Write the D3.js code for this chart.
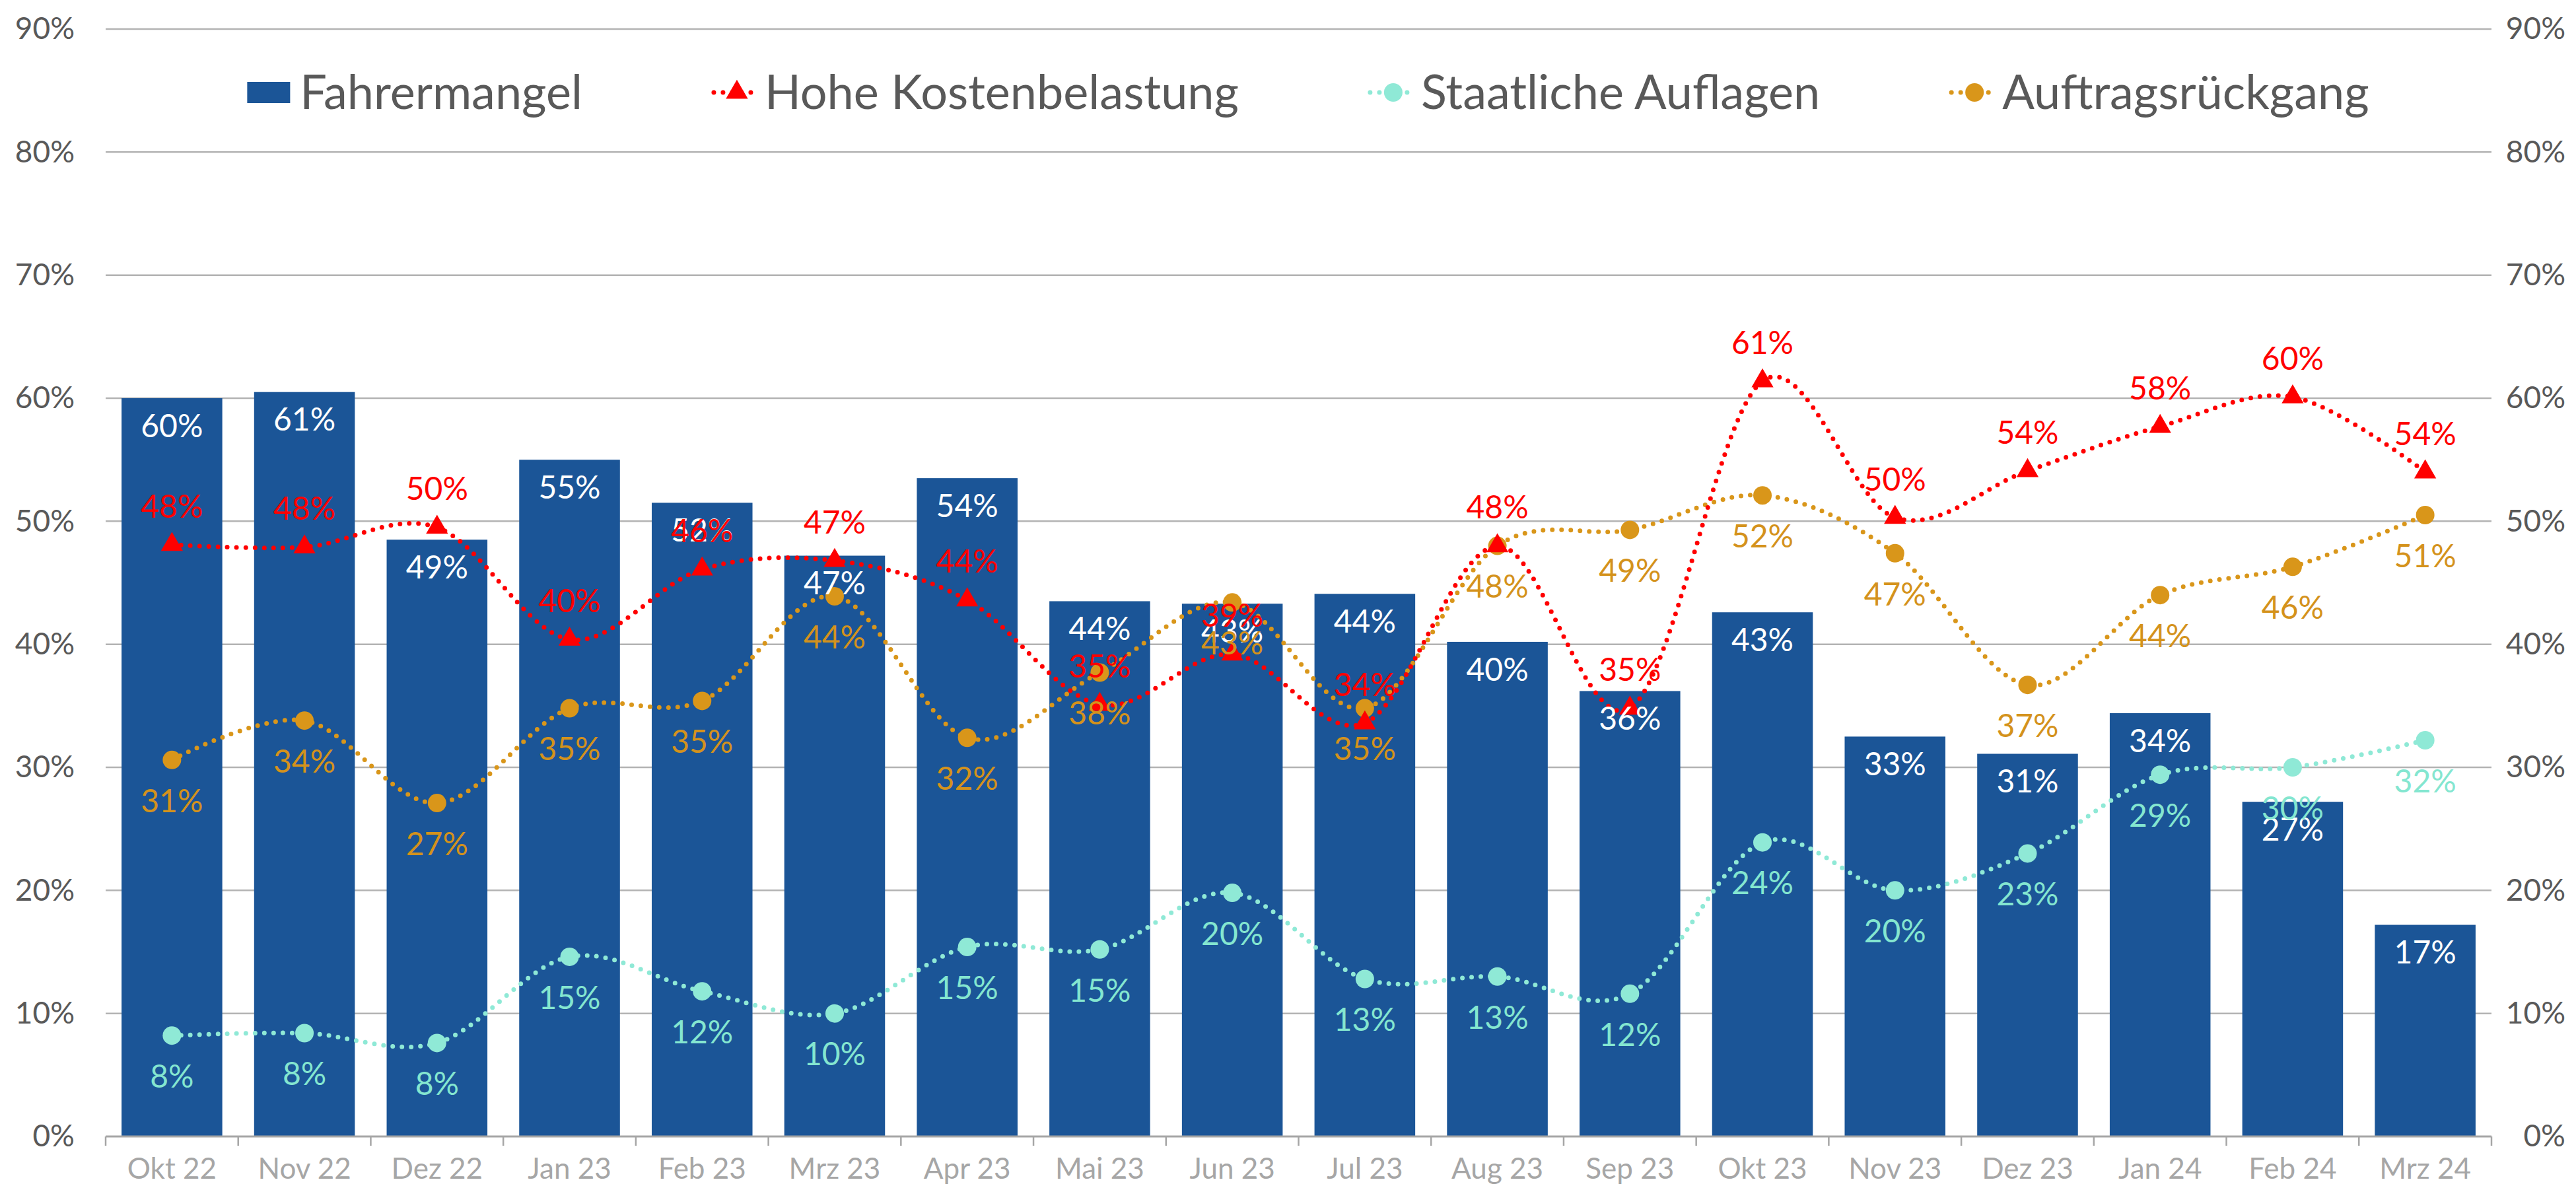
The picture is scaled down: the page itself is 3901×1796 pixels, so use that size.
<!DOCTYPE html>
<html>
<head>
<meta charset="utf-8">
<script src="https://cdn.jsdelivr.net/npm/d3@7"></script>
<style>
  html, body { margin: 0; padding: 0; background: #fff; }
  svg text { font-family: Lato, "Noto Sans", sans-serif; }
</style>
</head>
<body>
<svg id="chart" width="3901" height="1796"></svg>
<script>
var months = ["Okt 22", "Nov 22", "Dez 22", "Jan 23", "Feb 23", "Mrz 23", "Apr 23", "Mai 23", "Jun 23",
  "Jul 23", "Aug 23", "Sep 23", "Okt 23", "Nov 23", "Dez 23", "Jan 24", "Feb 24", "Mrz 24"];

// values in percent
var fahrermangel = [60, 60.5, 48.5, 55, 51.5, 47.2, 53.5, 43.5, 43.3, 44.1, 40.2, 36.2, 42.6, 32.5, 31.1, 34.4, 27.2, 17.2];
var kosten = [48.1, 47.9, 49.5, 40.4, 46.1, 46.8, 43.6, 35.1, 39.2, 33.6, 48.0, 34.8, 61.4, 50.3, 54.1, 57.7, 60.1, 54.0];
var auflagen = [8.2, 8.4, 7.6, 14.6, 11.8, 10.0, 15.4, 15.2, 19.8, 12.8, 13.0, 11.6, 23.9, 20.0, 23.0, 29.4, 30.0, 32.2];
var rueckgang = [30.6, 33.8, 27.1, 34.8, 35.4, 43.9, 32.4, 37.7, 43.4, 34.8, 48.0, 49.3, 52.1, 47.4, 36.7, 44.0, 46.3, 50.5];

var yTicks = [0, 10, 20, 30, 40, 50, 60, 70, 80, 90];
var seriesNames = ["Fahrermangel", "Hohe Kostenbelastung", "Staatliche Auflagen", "Auftragsrückgang"];

var barColor = "#1b5597";
var red = "#ff0000";
var teal = "#8fe9d6";
var gold = "#d9961a";

var svg = d3.select("#chart");

var x = d3.scaleBand()
  .domain(months)
  .range([160, 3773])
  .paddingInner(0.24)
  .paddingOuter(0.12);

var y = d3.scaleLinear()
  .domain([0, 90])
  .range([1721, 44]);

function cx(d, i) { return x(months[i]) + x.bandwidth() / 2; }
function pct(v) { return Math.round(v) + "%"; }

// gridlines
svg.append("g")
  .selectAll("line")
  .data(yTicks.slice(1))
  .enter()
  .append("line")
  .attr("x1", 160)
  .attr("x2", 3773)
  .attr("y1", function(d) { return y(d); })
  .attr("y2", function(d) { return y(d); })
  .style("stroke", "#b3b3b3")
  .style("stroke-width", 2.5);

// left + right axis labels
var leftAxis = d3.axisLeft(y).tickValues(yTicks).tickFormat(function(d) { return d + "%"; }).tickSize(0).tickPadding(0);
var rightAxis = d3.axisRight(y).tickValues(yTicks).tickFormat(function(d) { return d + "%"; }).tickSize(0).tickPadding(0);

var gl = svg.append("g").attr("transform", "translate(113,0)").call(leftAxis);
var gr = svg.append("g").attr("transform", "translate(3885,0)").call(rightAxis);
[gl, gr].forEach(function(g) {
  g.select(".domain").remove();
  g.selectAll("text")
    .attr("font-size", 46)
    .attr("font-family", "Lato, 'Noto Sans', sans-serif")
    .attr("fill", "#595959");
});
gr.selectAll("text").attr("text-anchor", "end");

// bars
svg.append("g")
  .selectAll("rect")
  .data(fahrermangel)
  .enter()
  .append("rect")
  .attr("x", function(d, i) { return x(months[i]); })
  .attr("y", function(d) { return y(d); })
  .attr("width", x.bandwidth())
  .attr("height", function(d) { return y(0) - y(d); })
  .style("fill", barColor);

// x axis
var xAxis = d3.axisBottom(x).tickSize(0).tickPadding(0);
var gx = svg.append("g").attr("transform", "translate(0," + y(0) + ")").call(xAxis);
gx.select(".domain").remove();
gx.selectAll("text")
  .attr("y", 64)
  .attr("dy", 0)
  .attr("font-size", 44)
  .attr("font-family", "Lato, 'Noto Sans', sans-serif")
  .attr("fill", "#a6a6a6");

svg.append("line")
  .attr("x1", 160).attr("x2", 3773)
  .attr("y1", y(0)).attr("y2", y(0))
  .style("stroke", "#a6a6a6")
  .style("stroke-width", 3);

var step = x.step();
var tickXs = months.map(function(m) { return x(m) - step * x.paddingInner() / 2; });
tickXs.push(3773);
tickXs[0] = 160;
svg.append("g")
  .selectAll("line")
  .data(tickXs)
  .enter()
  .append("line")
  .attr("x1", function(d) { return d; })
  .attr("x2", function(d) { return d; })
  .attr("y1", y(0))
  .attr("y2", y(0) + 14)
  .style("stroke", "#a6a6a6")
  .style("stroke-width", 2.5);

// lines
var line = d3.line()
  .x(cx)
  .y(function(d) { return y(d); })
  .curve(d3.curveCardinal.tension(0));

function drawLine(values, color) {
  svg.append("path")
    .datum(values)
    .attr("d", line)
    .style("fill", "none")
    .style("stroke", color)
    .style("stroke-width", 7)
    .style("stroke-linecap", "round")
    .style("stroke-dasharray", "0 14");
}

drawLine(auflagen, teal);
drawLine(rueckgang, gold);
drawLine(kosten, red);

var triangle = d3.symbol().type(d3.symbolTriangle).size(480);

function drawCircles(values, color) {
  svg.append("g")
    .selectAll("circle")
    .data(values)
    .enter()
    .append("circle")
    .attr("cx", cx)
    .attr("cy", function(d) { return y(d); })
    .attr("r", 14)
    .style("fill", color);
}

drawCircles(auflagen, teal);
drawCircles(rueckgang, gold);

svg.append("g")
  .selectAll("path")
  .data(kosten)
  .enter()
  .append("path")
  .attr("d", triangle)
  .attr("transform", function(d, i) { return "translate(" + cx(d, i) + "," + y(d) + ")"; })
  .style("fill", red);

// data labels
function drawLabels(values, color, offset) {
  svg.append("g")
    .selectAll("text")
    .data(values)
    .enter()
    .append("text")
    .attr("x", cx)
    .attr("y", function(d) { return y(d) + offset; })
    .attr("dy", "0.35em")
    .attr("text-anchor", "middle")
    .attr("font-size", 48)
    .attr("fill", color)
    .text(pct);
}

drawLabels(fahrermangel, "#ffffff", 42);
drawLabels(auflagen, "#84e6d0", 62);
drawLabels(rueckgang, "#d4921c", 62);
drawLabels(kosten, red, -58);

// legend
var legend = svg.append("g").attr("transform", "translate(0,140)");
var items = legend.selectAll("g")
  .data(seriesNames)
  .enter()
  .append("g");

items.append("text")
  .attr("x", 80)
  .attr("dy", "0.35em")
  .attr("font-size", 72)
  .attr("fill", "#595959")
  .text(function(d) { return d; });

items.each(function(d, i) {
  var g = d3.select(this);
  if (i === 0) {
    g.append("rect").attr("x", 0).attr("y", -16).attr("width", 65).attr("height", 32).style("fill", barColor);
  } else {
    var c = [null, red, teal, gold][i];
    g.append("line")
      .attr("x1", 3).attr("x2", 73)
      .attr("y1", 0).attr("y2", 0)
      .style("stroke", c)
      .style("stroke-width", 7)
      .style("stroke-linecap", "round")
      .style("stroke-dasharray", "0 14");
    if (i === 1) {
      g.append("path").attr("d", triangle).attr("transform", "translate(38,0)").style("fill", c);
    } else {
      g.append("circle").attr("cx", 38).attr("r", 14).style("fill", c);
    }
  }
});

var widths = [];
items.each(function() {
  widths.push(80 + d3.select(this).select("text").node().getComputedTextLength());
});
var gap = 196;
var total = d3.sum(widths) + gap * (widths.length - 1);
var start = 1981 - total / 2;
items.attr("transform", function(d, i) {
  var off = start + d3.sum(widths.slice(0, i)) + gap * i;
  return "translate(" + off + ",0)";
});
</script>
</body>
</html>
